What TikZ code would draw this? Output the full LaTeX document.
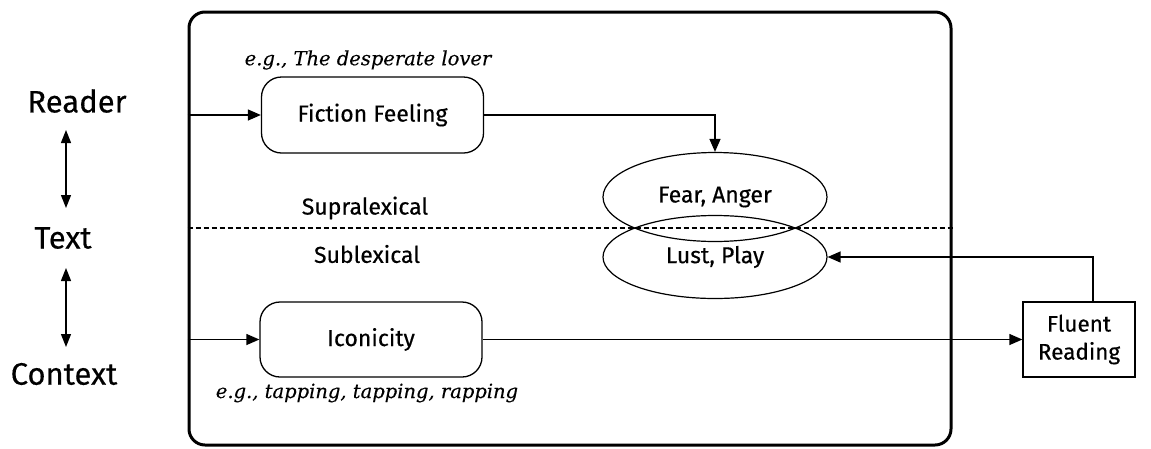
\documentclass[tikz,border=0pt]{standalone}
\usepackage{fontspec}
\setmainfont{Fira Sans}[FakeBold=0.4]
\newfontfamily\exfont{DejaVu Serif}[FakeBold=0.3]
\usetikzlibrary{shapes.geometric,arrows.meta}
\begin{document}
\begin{tikzpicture}[x=1pt,y=-1pt,
  tip/.style={Triangle[length=13pt,width=11pt]},
  arr/.style={line width=1.3pt,-{Triangle[length=13pt,width=11pt]}},
  darr/.style={line width=1.3pt,{Triangle[length=13pt,width=10pt]}-{Triangle[length=13pt,width=10pt]}},
  side/.style={font=\fontsize{31}{34}\selectfont},
  lbl/.style={font=\fontsize{23}{26}\selectfont},
  ex/.style={font=\exfont\itshape\fontsize{19.5}{22}\selectfont},
  rbox/.style={draw,line width=1.3pt,rounded corners=20pt,inner sep=0pt,lbl},
  oval/.style={draw,ellipse,line width=1.2pt,inner sep=0pt,lbl}]
\useasboundingbox (0,0) rectangle (1151,448);
% outer frame
\node[draw,line width=3pt,rounded corners=16pt,minimum width=762pt,minimum height=433pt,inner sep=0pt] (frame) at (570,228.5) {};
% left-hand levels
\node[side] (reader) at (77,101) {Reader};
\node[side] (text) at (63,238) {Text};
\node[side] (context) at (64,374) {Context};
\coordinate (a1) at (66,130);
\coordinate (a2) at (66,208);
\coordinate (a3) at (66,268);
\coordinate (a4) at (66,347);
\draw[darr] (a1) -- (a2);
\draw[darr] (a3) -- (a4);
% level divider
\draw[line width=1.1pt,dash pattern=on 5pt off 3pt] (frame.west |- 0,228) -- (frame.east |- 0,228);
\node[lbl] (supra) at (365,208) {Supralexical};
\node[lbl] (sub) at (367,254) {Sublexical};
% boxes
\node[rbox,minimum width=222pt,minimum height=76pt] (ff) at (372.5,115) {Fiction Feeling};
\node[ex] (ex1) at (368,60) {e.g., The desperate lover};
\node[rbox,minimum width=222pt,minimum height=75pt] (ic) at (371,339.5) {Iconicity};
\node[ex] (ex2) at (367,393) {e.g., tapping, tapping, rapping};
\node[oval,minimum width=224pt,minimum height=89pt] (fa) at (715,197) {Fear, Anger};
\node[oval,minimum width=224pt,minimum height=83pt] (lp) at (715,257) {Lust, Play};
\node[draw,line width=1.3pt,inner sep=0pt,minimum width=112pt,minimum height=75pt,align=center,font=\fontsize{22.5}{28}\selectfont] (fr) at (1079,339.5) {Fluent\\Reading};
% connectors
\draw[arr] (frame.west |- ff.west) -- (ff.west);
\draw[arr] (frame.west |- ic.west) -- (ic.west);
\draw[arr] (ff.east) -| (fa.north);
\draw[arr] (ic.east) -- (fr.west);
\draw[arr] ([xshift=14pt]fr.north) |- (lp.east);
\end{tikzpicture}
\end{document}
